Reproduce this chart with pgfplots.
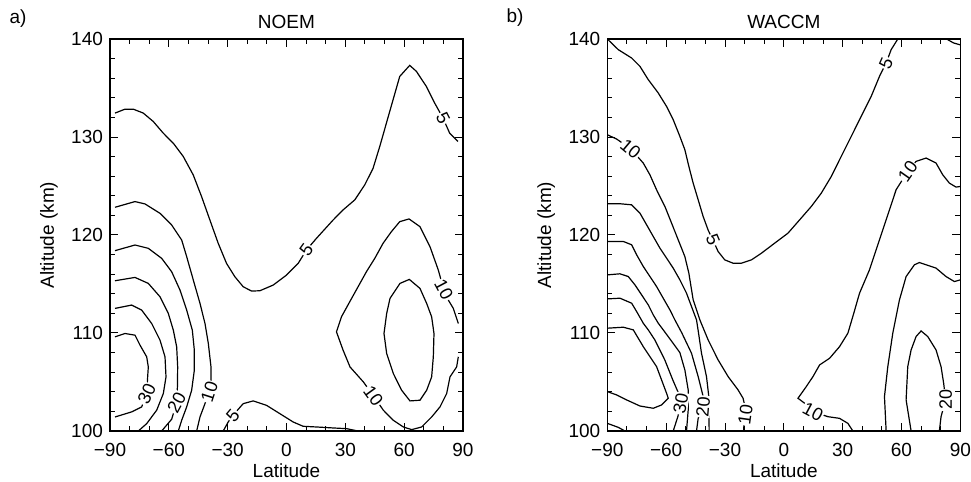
\documentclass[border=0pt]{standalone}
\usepackage{fontspec}
\setmainfont{Liberation Sans}
\usepackage{pgfplots}
\pgfplotsset{compat=1.18}
\newcommand{\lblfont}{\fontsize{9.5}{11}\selectfont}
\newcommand{\clfont}{\fontsize{9}{10}\selectfont}
\tikzset{clab/.style={fill=white, inner sep=0.5pt, font=\clfont}}
\pgfplotsset{
  cl/.style={black, line width=0.6pt, no markers},
  panel/.style={
    scale only axis, width=176.5pt, height=196pt, anchor=south west,
    xmin=-90, xmax=90, ymin=100, ymax=140,
    xtick={-90,-60,-30,0,30,60,90},
    xticklabels={−90,−60,−30,0,30,60,90},
    ytick={100,110,120,130,140},
    yticklabels={100,110,120,130,140},
    minor x tick num=2, minor y tick num=4,
    tick align=inside, major tick length=4pt, minor tick length=2.5pt,
    axis line style={line width=0.8pt},
    every tick/.append style={black, line width=0.5pt},
    ticklabel style={font=\lblfont},
    xticklabel style={yshift=-2.5pt},
    label style={font=\lblfont},
    xlabel={Latitude}, ylabel={Altitude (km)},
    xlabel style={at={(axis description cs:0.5,-0.102)}, anchor=center},
    ylabel style={at={(axis description cs:-0.173,0.5)}, anchor=center},
    title style={font=\lblfont, at={(axis description cs:0.5,1.0138)}, anchor=center},
  },
}
\begin{document}
\begin{tikzpicture}
\useasboundingbox (-55pt,-25.5pt) rectangle (430.5pt,215.5pt);
% ---------------- panel a ----------------
\begin{axis}[panel, at={(0pt,0pt)}, title={NOEM}]
\addplot[cl] coordinates {(-87.45,132.44) (-82.36,132.84) (-78.11,132.84) (-73.02,132.44) (-67.93,131.58) (-62.83,130.39) (-57.74,129.37) (-52.64,128.01) (-47.55,126.13) (-43.30,123.92) (-39.06,121.53) (-34.81,119.15) (-30.57,117.10) (-26.32,115.74) (-22.08,114.72) (-17.83,114.28) (-13.59,114.31) (-6.79,114.89) (0,115.91) (5.94,117.10) (10.19,118.47) (15.28,119.66) (23.77,121.53) (28.86,122.56) (34.81,123.58) (39.90,125.11) (44.15,126.81) (47.55,129.03) (50.94,131.41) (54.34,133.80) (57.74,136.18) (62.83,137.31) (66.23,136.70) (71.32,135.16) (75.57,133.46) (79.81,131.93) (83.21,130.39) (87.45,129.54)};
\addplot[cl] coordinates {(-32.27,100.0) (-29.72,100.92) (-27.3,101.6) (-22.08,102.79) (-16.98,103.07) (-10.19,102.62) (-3.40,101.77) (3.40,100.92) (8.49,100.48) (15.28,100.41) (23.77,100.31) (30.57,100.24) (36.51,100.0)};
\addplot[cl] coordinates {(-87.45,122.83) (-77.25,123.41) (-72.15,123.17) (-64.50,122.21) (-58.55,121.02) (-53.45,119.49) (-50.90,117.79) (-47.51,115.40) (-44.11,113.02) (-41.56,110.97) (-39.86,108.93) (-38.50,106.54) (-38.50,105.18) (-39.3,104.0) (-41.56,102.80) (-44.11,101.43) (-45.81,100.0)};
\addplot[cl] coordinates {(-87.45,118.40) (-77.25,118.98) (-70.46,118.64) (-63.65,117.62) (-58.55,116.25) (-54.31,114.38) (-50.90,112.34) (-48.02,110.29) (-47.00,108.25) (-47.00,106.20) (-48.36,104.16) (-50.90,102.46) (-53.45,101.09) (-55.16,100.0)};
\addplot[cl] coordinates {(-87.45,115.33) (-77.25,115.67) (-70.46,115.06) (-64.50,113.70) (-60.26,112.0) (-57.71,110.29) (-56.0,108.59) (-55.49,106.54) (-55.6,104.6) (-56.0,102.9) (-58.55,101.2) (-63.65,100.0)};
\addplot[cl] coordinates {(-87.45,112.51) (-78.95,112.85) (-73.85,112.34) (-68.75,110.97) (-64.50,109.27) (-61.95,107.57) (-61.44,105.52) (-62.81,103.82) (-66.20,102.12) (-71.30,100.75) (-75.55,100.0)};
\addplot[cl] coordinates {(-87.45,109.61) (-82.35,109.95) (-77.25,109.78) (-74.70,108.76) (-71.30,107.57) (-70.46,106.54) (-70.80,105.52) (-71.3,103.75) (-73.85,102.46) (-78.95,101.95) (-87.45,101.43)};
\addplot[cl] coordinates {(87.62,107.57) (86.77,106.54) (83.37,105.52) (81.67,103.82) (78.27,102.46) (74.02,101.43) (68.93,100.41) (63.83,100.14) (59.58,100.41) (54.48,101.09) (49.38,102.12) (44.3,103.6) (39.18,105.01) (32.38,106.54) (28.86,108.25) (25.47,110.12) (28.02,111.65) (32.26,113.19) (36.51,114.72) (40.75,116.25) (45.0,117.61) (49.24,119.15) (53.49,120.34) (57.74,121.36) (62.49,121.64) (68.07,120.85) (73.17,118.81) (77.42,116.42) (80.2,114.4) (82.52,113.36) (85.07,112.51) (87.62,110.97)};
\addplot[cl] coordinates {(57.87,115.06) (62.63,115.47) (68.07,114.55) (71.47,113.02) (74.02,111.65) (75.21,109.95) (74.87,107.57) (74.02,105.52) (71.47,104.16) (68.07,103.14) (62.97,103.07) (58.72,104.16) (54.48,105.86) (51.08,107.91) (49.72,109.95) (51.08,111.99) (52.78,113.53) (57.87,115.06)};
\node[clab, rotate=54] at (axis cs:10.19,118.47) {5};
\node[clab, rotate=-63] at (axis cs:79.81,131.93) {5};
\node[clab, rotate=-62] at (axis cs:80.2,114.4) {10};
\node[clab, rotate=-54] at (axis cs:44.3,103.6) {10};
\node[clab, rotate=72] at (axis cs:-39.3,104.0) {10};
\node[clab, rotate=62] at (axis cs:-56.0,102.9) {20};
\node[clab, rotate=65] at (axis cs:-71.3,103.75) {30};
\node[clab, rotate=50] at (axis cs:-27.3,101.6) {5};
\end{axis}
% ---------------- panel b ----------------
\begin{axis}[panel, at={(248.67pt,0pt)}, title={WACCM}]
\addplot[cl] coordinates {(-90,140.0) (-84.40,138.91) (-77.61,138.06) (-73.37,137.21) (-69.13,135.85) (-64.04,134.49) (-59.80,133.12) (-56.41,131.76) (-53.01,130.06) (-50.47,128.70) (-48.43,127.00) (-46.23,125.29) (-43.68,123.59) (-41.14,121.89) (-38.6,120.5) (-36.2,119.5) (-33.50,118.31) (-30.11,117.46) (-25.87,117.12) (-21.63,117.12) (-16.54,117.46) (-11.45,118.14) (-4.66,119.17) (2.13,120.19) (8.07,121.55) (14.0,122.91) (19.09,124.27) (24.18,125.97) (29.27,128.02) (34.36,130.06) (39.45,132.10) (44.54,134.14) (48.78,136.19) (52.18,137.55) (54.72,138.91) (58.12,140.0)};
\addplot[cl] coordinates {(83.0,140) (86.5,139.6) (90,139.4)};
\addplot[cl] coordinates {(-90,130.23) (-85.25,129.79) (-78.12,128.80) (-71.68,127.34) (-68.28,126.14) (-64.89,124.61) (-60.65,122.91) (-57.25,121.21) (-53.86,119.51) (-50.47,117.80) (-48.43,116.10) (-46.23,113.38) (-42.83,111.34) (-38.59,109.29) (-33.50,107.25) (-28.41,105.55) (-23.32,104.19) (-20.78,103.34) (-19.5,102.2) (-20.2,101.2) (-20.5,100.0)};
\addplot[cl] coordinates {(-90,123.19) (-83.55,123.19) (-77.61,123.08) (-73.37,122.23) (-69.98,121.04) (-66.59,119.85) (-63.19,118.66) (-59.80,117.64) (-56.41,116.62) (-53.01,115.42) (-49.62,114.06) (-47.07,112.70) (-44.53,111.34) (-43.5,110.0) (-41.98,107.93) (-39.44,105.55) (-38.25,103.51) (-38.09,100.0)};
\addplot[cl] coordinates {(-90,119.34) (-81.86,119.34) (-77.61,119.0) (-75.07,117.98) (-71.68,116.79) (-68.28,115.76) (-64.89,114.74) (-61.50,113.55) (-58.10,112.36) (-55.56,111.34) (-52.0,110.0) (-47.07,107.93) (-43.68,105.55) (-41.14,103.51) (-41.14,102.5) (-43.68,101.29) (-44.53,100.0)};
\addplot[cl] coordinates {(-90,115.93) (-83.55,116.04) (-79.31,115.76) (-75.92,114.91) (-72.52,113.89) (-69.13,112.87) (-66.59,111.85) (-64.04,111.0) (-61.50,110.32) (-57.0,109.1) (-53.01,108.0) (-50.47,106.23) (-48.77,104.19) (-48.77,102.15) (-49.62,100.0)};
\addplot[cl] coordinates {(-90,113.48) (-83.55,113.55) (-77.61,113.04) (-75.07,112.19) (-71.68,111.0) (-69.13,110.32) (-65.8,109.3) (-60.7,107.25) (-56.6,105.2) (-53.8,103.9) (-52.5,102.8) (-54.0,101.5) (-56.4,100.0)};
\addplot[cl] coordinates {(-90,110.49) (-81.86,110.59) (-76.77,110.32) (-71.68,108.61) (-68.28,107.59) (-64.89,106.57) (-62.34,105.21) (-59.80,103.85) (-58.95,103.34) (-62.34,102.66) (-66.59,102.32) (-73.37,102.55) (-80.16,103.17) (-85.25,103.68) (-90,104.02)};
\addplot[cl] coordinates {(-90,100.78) (-84.40,100.37) (-81.0,100.0)};
\addplot[cl] coordinates {(35.20,100.0) (32.66,100.78) (28.42,101.29) (22.48,101.46) (14.85,101.97) (10.61,102.83) (7.21,103.34) (11.45,104.53) (14.85,105.55) (18.24,106.74) (23.33,107.42) (28.42,108.61) (32.66,109.98) (35.5,111.9) (38.6,114.06) (43.69,116.45) (47.08,118.49) (50.47,120.53) (53.87,122.57) (57.26,124.62) (63.19,126.49) (67.44,127.51) (72.53,127.85) (77.62,127.34) (81.01,126.15) (84.40,125.30) (87.80,124.89) (90,124.95)};
\addplot[cl] coordinates {(52.17,100.0) (51.32,103.51) (53.02,106.57) (55.56,109.98) (58.96,113.38) (62.35,115.76) (66.59,116.96) (69.13,117.19) (77.62,116.62) (82.71,115.76) (86.95,115.25) (90,115.42)};
\addplot[cl] coordinates {(64.90,100.0) (62.35,103.17) (63.19,106.57) (64.90,108.27) (67.44,109.64) (69.99,110.21) (73.38,109.64) (77.62,108.27) (80.17,106.57) (81.5,104.87) (82.5,103.2) (80.17,101.46) (79.31,100.0)};
\node[clab, rotate=-40] at (axis cs:-78.12,128.80) {10};
\node[clab, rotate=-67] at (axis cs:-36.2,119.5) {5};
\node[clab, rotate=66] at (axis cs:52.18,137.55) {5};
\node[clab, rotate=55] at (axis cs:63.19,126.49) {10};
\node[clab, rotate=90] at (axis cs:82.5,103.2) {20};
\node[clab, rotate=80] at (axis cs:-52.5,102.8) {30};
\node[clab, rotate=85] at (axis cs:-41.14,102.5) {20};
\node[clab, rotate=82] at (axis cs:-19.6,101.7) {10};
\node[clab, rotate=-28] at (axis cs:14.85,101.97) {10};
\end{axis}
\node[font=\lblfont] at (-46pt,206pt) {a)};
\node[font=\lblfont] at (202.5pt,206.5pt) {b)};
\end{tikzpicture}
\end{document}
